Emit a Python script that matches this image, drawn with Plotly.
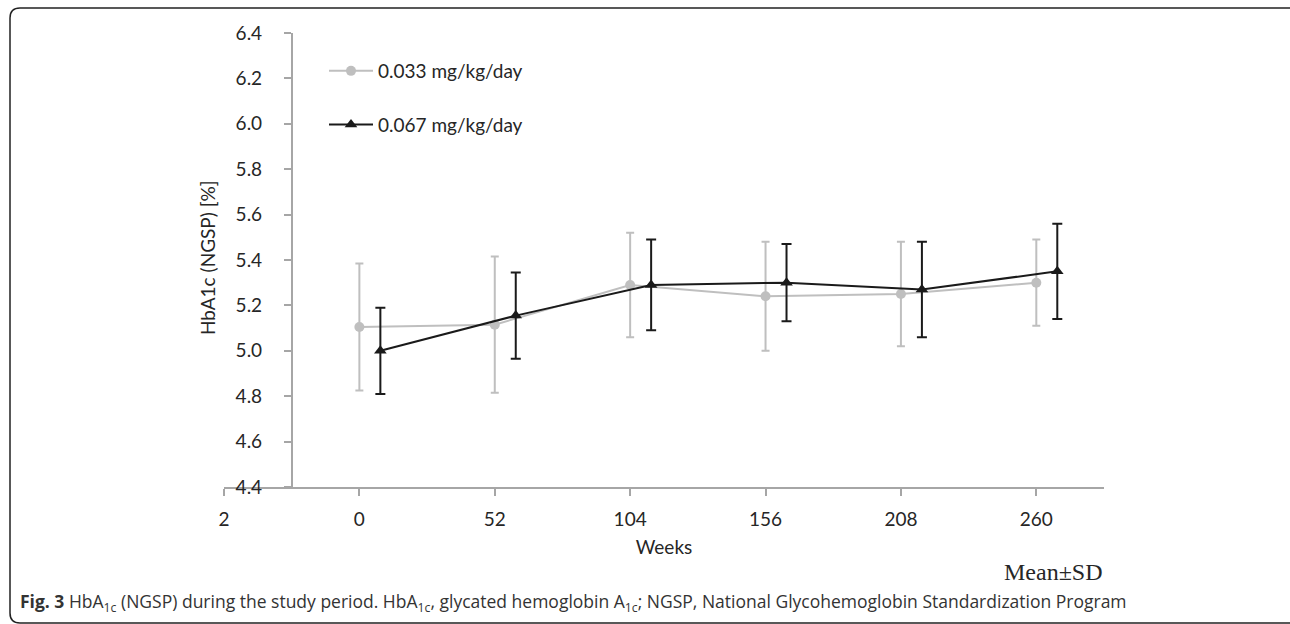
import plotly.graph_objects as go

# ---------------- data ----------------
tick_labels = ["2", "0", "52", "104", "156", "208", "260"]
weeks = ["0", "52", "104", "156", "208", "260"]

low_dose_name = "0.033 mg/kg/day"
low_mean = [5.105, 5.115, 5.29, 5.24, 5.25, 5.30]
low_sd = [0.28, 0.30, 0.23, 0.24, 0.23, 0.19]

high_dose_name = "0.067 mg/kg/day"
high_mean = [5.00, 5.155, 5.29, 5.30, 5.27, 5.35]
high_sd = [0.19, 0.19, 0.20, 0.17, 0.21, 0.21]

y_ticks = [4.4, 4.6, 4.8, 5.0, 5.2, 5.4, 5.6, 5.8, 6.0, 6.2, 6.4]

# ---------------- layout helpers ----------------
W, H = 1290, 624
L, R, T, B = 224, 1104, 33, 487
def px(x):
    return (x - L) / (R - L)
def py(y):
    return (B - y) / (B - T)

pos = {lab: i for i, lab in enumerate(tick_labels)}
x_low = [pos[w] for w in weeks]
x_high = [pos[w] + 0.155 for w in weeks]

GRAY = "#bfbfbf"
BLACK = "#1a1a1a"
AXIS = "#a6a6a6"
TXT = "#262626"
FONT = "Lato"

fig = go.Figure()
fig.add_trace(go.Scatter(
    x=x_low, y=low_mean, name=low_dose_name, mode="lines+markers",
    line=dict(color=GRAY, width=2),
    marker=dict(symbol="circle", size=10, color=GRAY),
    error_y=dict(type="data", array=low_sd, visible=True, color=GRAY,
                 thickness=2, width=4),
    legendgroup="a",
))
fig.add_trace(go.Scatter(
    x=x_high, y=high_mean, name=high_dose_name, mode="lines+markers",
    line=dict(color=BLACK, width=2),
    marker=dict(symbol="triangle-up", size=11, color=BLACK),
    error_y=dict(type="data", array=high_sd, visible=True, color=BLACK,
                 thickness=2, width=5),
    legendgroup="b",
))

fig.update_layout(
    width=W, height=H,
    margin=dict(l=L, r=W - R, t=T, b=H - B),
    paper_bgcolor="white", plot_bgcolor="white",
    font=dict(family=FONT, size=19, color=TXT),
    showlegend=True,
    legend=dict(
        x=px(324), y=py(52), xanchor="left", yanchor="top",
        bgcolor="rgba(0,0,0,0)", borderwidth=0,
        traceorder="grouped", tracegroupgap=26,
        itemwidth=44,
        font=dict(family=FONT, size=19, color=TXT),
    ),
    xaxis=dict(
        range=[0, 6.5], tickmode="array",
        tickvals=list(range(len(tick_labels))), ticktext=tick_labels,
        showline=True, linecolor=AXIS, linewidth=1.5,
        ticks="outside", ticklen=7, tickcolor=AXIS, tickwidth=1.5,
        ticklabelstandoff=7,
        showgrid=False, zeroline=False,
        title=dict(text="Weeks", standoff=12, font=dict(size=19, color=TXT)),
    ),
    yaxis=dict(
        range=[4.4, 6.4], tickmode="array", tickvals=y_ticks,
        tickformat=".1f",
        anchor="free", position=0.5 / 6.5,
        showline=True, linecolor=AXIS, linewidth=1.5,
        ticks="outside", ticklen=7, tickcolor=AXIS, tickwidth=1.5,
        ticklabelstandoff=18,
        showgrid=False, zeroline=False,
    ),
)

# y-axis title
fig.add_annotation(
    text="HbA1c (NGSP) [%]", textangle=-90,
    xref="paper", yref="paper", x=px(207), y=py(258),
    xanchor="center", yanchor="middle", showarrow=False,
    font=dict(family=FONT, size=19, color=TXT),
)
# Mean±SD note
fig.add_annotation(
    text="Mean±SD",
    xref="paper", yref="paper", x=px(1002), y=py(572),
    xanchor="left", yanchor="middle", showarrow=False,
    font=dict(family="Liberation Serif", size=24, color=TXT),
)
# caption
fig.add_annotation(
    text="<b>Fig. 3</b> HbA<sub>1c</sub> (NGSP) during the study period. HbA<sub>1c</sub>, "
         "glycated hemoglobin A<sub>1c</sub>; NGSP, National Glycohemoglobin Standardization Program",
    xref="paper", yref="paper", x=px(18), y=py(602),
    xanchor="left", yanchor="middle", showarrow=False,
    font=dict(family="Open Sans", size=17.5, color="#333333"),
)

# rounded frame
x0, x1, y0, y1, r = 10, 1293, 8, 623, 10
path = (f"M {px(x1)},{py(y0)} L {px(x0 + r)},{py(y0)} "
        f"Q {px(x0)},{py(y0)} {px(x0)},{py(y0 + r)} "
        f"L {px(x0)},{py(y1 - r)} Q {px(x0)},{py(y1)} {px(x0 + r)},{py(y1)} "
        f"L {px(x1)},{py(y1)}")
fig.add_shape(type="path", path=path, xref="paper", yref="paper",
              line=dict(color="#222222", width=1.5), layer="below")

fig.write_html("out.html")
